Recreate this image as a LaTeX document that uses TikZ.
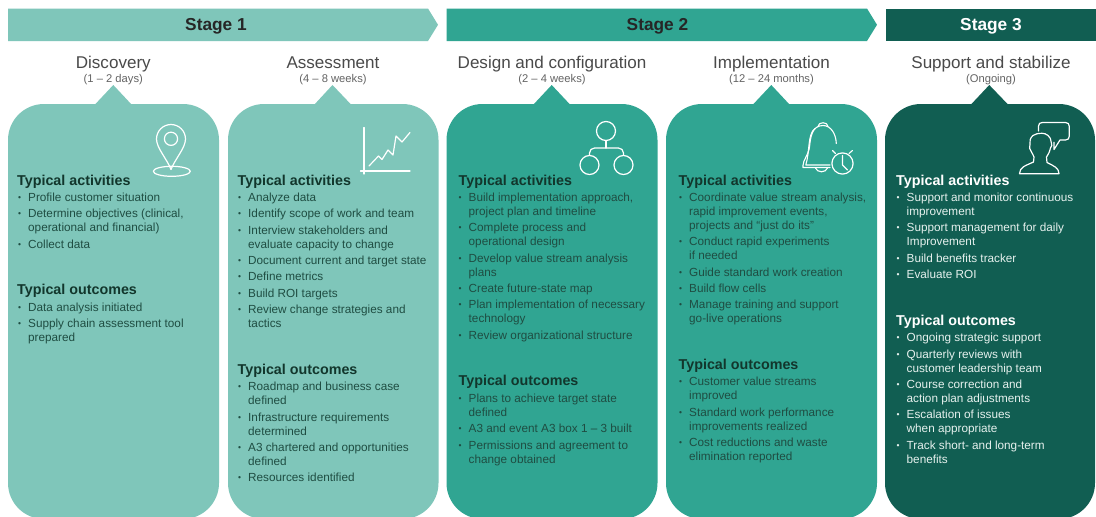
\documentclass[tikz,border=0pt]{standalone}
\usepackage{fontspec}
\setmainfont{Liberation Sans}
\definecolor{cone}{HTML}{7FC6BA}
\definecolor{ctwo}{HTML}{30A592}
\definecolor{cthree}{HTML}{115E52}
\definecolor{btxt}{HTML}{1F4D42}
\definecolor{htxt}{HTML}{12362C}
\definecolor{ltxt}{HTML}{E6F1EE}
\definecolor{ttl}{HTML}{4A4A4A}
\definecolor{subt}{HTML}{646464}
\newcount\tcnt
\newcommand{\bul}[3]{\global\advance\tcnt by 1
  \node[bodytxt] (t\the\tcnt) at (#1,{#2-9.8}) {\strut\llap{\raisebox{1.2pt}{\fontsize{8.5}{8}\selectfont •}\hspace{7pt}}#3};}
\newcommand{\hdg}[3]{\global\advance\tcnt by 1
  \node[headtxt] (t\the\tcnt) at (#1,#2) {#3};}
\tikzset{
  bodytxt/.style={anchor=north west,inner sep=0pt,align=left,text=btxt,font=\fontsize{11.75}{14}\selectfont},
  headtxt/.style={anchor=base west,inner sep=0pt,text=htxt,font=\fontsize{14.3}{16}\selectfont\bfseries},
  stagetxt/.style={anchor=base,inner sep=0pt,font=\fontsize{17.3}{20}\selectfont\bfseries,text=black!85},
  titletxt/.style={anchor=base,inner sep=0pt,font=\fontsize{17.05}{20}\selectfont,text=ttl},
  subtxt/.style={anchor=base,inner sep=0pt,font=\fontsize{11.2}{12}\selectfont,text=subt},
  icon/.style={draw=white,line width=1.2pt,line join=round,line cap=round},
}
\begin{document}
\begin{tikzpicture}[x=1pt,y=-1pt]
\useasboundingbox (0,0) rectangle (1096,517);
\clip (0,0) rectangle (1096,517);
\fill[white] (0,0) rectangle (1096,517);
% banners
\fill[cone] (8,8.5) -- (428,8.5) -- (438,24.8) -- (428,41) -- (8,41) -- cycle;
\fill[ctwo] (446.5,8.5) -- (867,8.5) -- (877,24.8) -- (867,41) -- (446.5,41) -- cycle;
\fill[cthree] (886,8.5) rectangle (1096,41);
\node[stagetxt] (s1) at (216,30.3) {Stage 1};
\node[stagetxt] (s2) at (657.5,30.3) {Stage 2};
\node[stagetxt,text=white] (s3) at (991,30.3) {Stage 3};
% titles
\node[titletxt] (n1) at (113.3,68) {Discovery};
\node[subtxt] (d1) at (113.3,82) {(1 – 2 days)};
\node[titletxt] (n2) at (333,68) {Assessment};
\node[subtxt] (d2) at (333,82) {(4 – 8 weeks)};
\node[titletxt] (n3) at (552,68) {Design and configuration};
\node[subtxt] (d3) at (552,82) {(2 – 4 weeks)};
\node[titletxt] (n4) at (771.5,68) {Implementation};
\node[subtxt] (d4) at (771.5,82) {(12 – 24 months)};
\node[titletxt] (n5) at (991,68) {Support and stabilize};
\node[subtxt] (d5) at (991,82) {(Ongoing)};
% cards
\fill[cone,rounded corners=36pt] (8,104) rectangle (219,519);
\fill[cone] (94.5,105) -- (113.3,85) -- (132,105) -- cycle;
\fill[cone,rounded corners=36pt] (228,104) rectangle (438.5,519);
\fill[cone] (314,105) -- (332.5,85) -- (351.5,105) -- cycle;
\fill[ctwo,rounded corners=36pt] (446.5,104) rectangle (657.5,519);
\fill[ctwo] (533,105) -- (551.7,85) -- (570.5,105) -- cycle;
\fill[ctwo,rounded corners=36pt] (666,104) rectangle (877,519);
\fill[ctwo] (752.5,105) -- (771.3,85) -- (790,105) -- cycle;
\fill[cthree,rounded corners=36pt] (885,104) rectangle (1095,519);
\fill[cthree] (970.5,105) -- (989.3,85) -- (1008.5,105) -- cycle;
% pin icon
\draw[icon] (171,138.8) circle (6.6);
\draw[icon] (171,169.5) .. controls (167,159) and (156.5,148) .. (156.5,139) arc[start angle=180,end angle=0,x radius=14.5,y radius=-14.5] .. controls (185.5,148) and (175,159) .. cycle;
\draw[icon] (171.8,171.3) ellipse (18.5 and 5);
% chart icon
\draw[icon] (364,127.5) -- (364,174);
\draw[icon] (360.5,171) -- (410,171);
\draw[icon] (369,166) -- (378.5,156) -- (382,159.5) -- (388,150) -- (393,155) -- (396,136) -- (402,142) -- (410,132.5);
% hierarchy icon
\draw[icon] (606,131) circle (9.5);
\draw[icon] (589.5,165) circle (9.5);
\draw[icon] (623.5,165) circle (9.5);
\draw[icon] (606,141) -- (606,148);
\draw[icon,rounded corners=5pt] (589.5,155) -- (589.5,148) -- (623.5,148) -- (623.5,155);
% bell icon
\draw[icon,line width=1.1pt] (836.3,143.5) .. controls (836,134) and (831,125.5) .. (823,125.5) .. controls (812,125.5) and (810.5,137) .. (809.5,147) .. controls (808.5,155) and (803,160) .. (803,165.5) -- (803,167.5) -- (830,167.5);
\draw[icon,line width=1.1pt] (818,126.5) .. controls (818,121.5) and (828,121.5) .. (828,126.5);
\draw[icon,line width=1.1pt] (815,128.5) .. controls (807.5,134) and (810,151) .. (805.8,165) -- (830,165);
\draw[icon,line width=1.1pt] (815.5,168) .. controls (817,173) and (826,173) .. (827.5,168);
\draw[icon] (842.5,163.5) circle (10.6);
\draw[icon,line width=1.1pt] (842.5,155.5) -- (842.5,165) -- (847.5,170);
\draw[icon,line width=1.1pt] (832.5,150.5) -- (835.5,153.5);
\draw[icon,line width=1.1pt] (849,153.5) -- (852.5,150.5);
% person icon
\draw[icon] (1038.4,131) -- (1038.4,126.5) .. controls (1038.4,123.5) and (1040,122.5) .. (1042.5,122.5) -- (1065.5,122.5) .. controls (1068,122.5) and (1069.3,124) .. (1069.3,126.5) -- (1069.3,136) .. controls (1069.3,138.5) and (1068,140) .. (1065.5,140) -- (1060,140) -- (1054,149.5) -- (1054,142.3);
\draw[icon] (1019.5,173.7) -- (1059,173.7) .. controls (1059,168) and (1054,166) .. (1047,162.5) -- (1046.5,157) .. controls (1049,153) and (1050,151) .. (1050.5,148) .. controls (1052,147) and (1052,144) .. (1051.3,142.5) .. controls (1051,136) and (1046,133.3) .. (1042,133.3) .. controls (1038,133.3) and (1035,134) .. (1033,135.5) .. controls (1030,138) and (1029.5,141) .. (1030,144) .. controls (1028.5,147) and (1030,150) .. (1031.5,152) .. controls (1032.5,154) and (1033.5,155.5) .. (1034,157) -- (1033.5,162) .. controls (1026,165.5) and (1019.5,167) .. (1019.5,173.7) -- cycle;
% column 1
\hdg{17}{185}{Typical activities}
\bul{28}{201}{Profile customer situation}
\bul{28}{217}{Determine objectives (clinical,\\operational and financial)}
\bul{28}{248}{Collect data}
\hdg{17}{294}{Typical outcomes}
\bul{28}{311}{Data analysis initiated}
\bul{28}{327}{Supply chain assessment tool\\prepared}
% column 2
\hdg{237.5}{185}{Typical activities}
\bul{248}{201}{Analyze data}
\bul{248}{217}{Identify scope of work and team}
\bul{248}{234}{Interview stakeholders and\\evaluate capacity to change}
\bul{248}{264}{Document current and target state}
\bul{248}{280}{Define metrics}
\bul{248}{297}{Build ROI targets}
\bul{248}{313}{Review change strategies and\\tactics}
\hdg{237.5}{374}{Typical outcomes}
\bul{248}{390}{Roadmap and business case\\defined}
\bul{248}{421}{Infrastructure requirements\\determined}
\bul{248}{451}{A3 chartered and opportunities\\defined}
\bul{248}{481}{Resources identified}
% column 3
\hdg{458.5}{185}{Typical activities}
\bul{468.5}{201}{Build implementation approach,\\project plan and timeline}
\bul{468.5}{231}{Complete process and\\operational design}
\bul{468.5}{262}{Develop value stream analysis\\plans}
\bul{468.5}{292}{Create future-state map}
\bul{468.5}{308}{Plan implementation of necessary\\technology}
\bul{468.5}{339}{Review organizational structure}
\hdg{458.5}{385}{Typical outcomes}
\bul{468.5}{402}{Plans to achieve target state\\defined}
\bul{468.5}{432}{A3 and event A3 box 1 – 3 built}
\bul{468.5}{449}{Permissions and agreement to\\change obtained}
% column 4
\hdg{678.5}{185}{Typical activities}
\bul{689}{201}{Coordinate value stream analysis,\\rapid improvement events,\\projects and “just do its”}
\bul{689}{245}{Conduct rapid experiments\\if needed}
\bul{689}{276}{Guide standard work creation}
\bul{689}{292}{Build flow cells}
\bul{689}{308}{Manage training and support\\go-live operations}
\hdg{678.5}{369}{Typical outcomes}
\bul{689}{385}{Customer value streams\\improved}
\bul{689}{416}{Standard work performance\\improvements realized}
\bul{689}{446}{Cost reductions and waste\\elimination reported}
% column 5
\begin{scope}[bodytxt/.append style={text=ltxt},headtxt/.append style={text=white}]
\hdg{896}{185}{Typical activities}
\bul{906.5}{201}{Support and monitor continuous\\improvement}
\bul{906.5}{231}{Support management for daily\\Improvement}
\bul{906.5}{262}{Build benefits tracker}
\bul{906.5}{278}{Evaluate ROI}
\hdg{896}{325}{Typical outcomes}
\bul{906.5}{341}{Ongoing strategic support}
\bul{906.5}{358}{Quarterly reviews with\\customer leadership team}
\bul{906.5}{388}{Course correction and\\action plan adjustments}
\bul{906.5}{418}{Escalation of issues\\when appropriate}
\bul{906.5}{449}{Track short- and long-term\\benefits}
\end{scope}
\end{tikzpicture}
\end{document}
